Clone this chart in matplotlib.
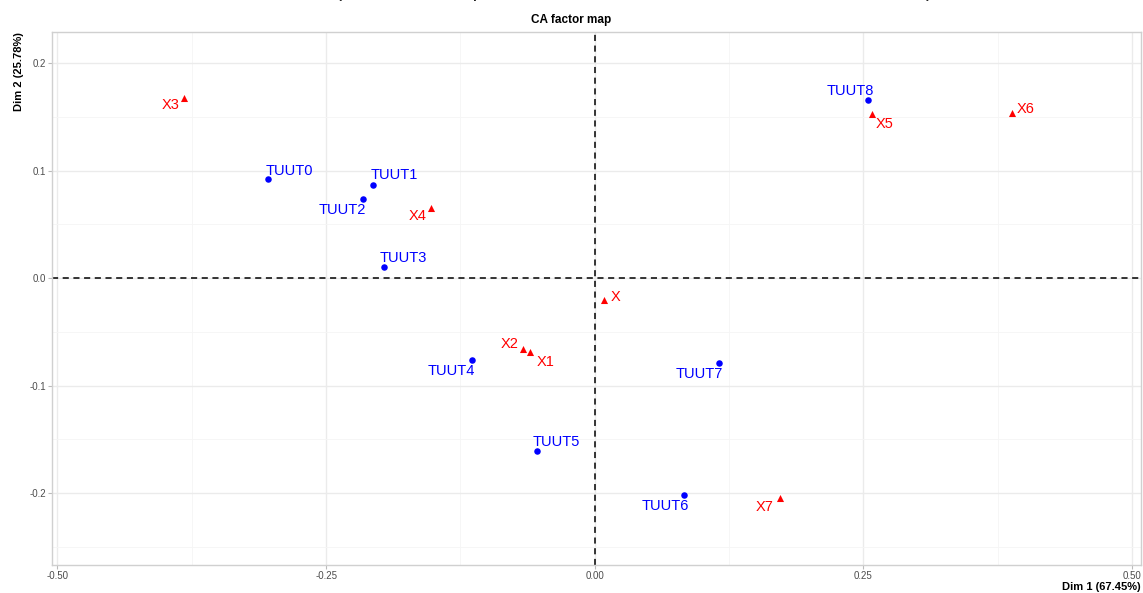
import matplotlib.pyplot as plt
from matplotlib.ticker import MultipleLocator

plt.rcParams['font.family'] = ['Liberation Sans', 'DejaVu Sans']

# rows (TUUTs) - blue points
row_names = ['TUUT0', 'TUUT1', 'TUUT2', 'TUUT3', 'TUUT4', 'TUUT5', 'TUUT6', 'TUUT7', 'TUUT8']
row_x = [-0.304, -0.206, -0.216, -0.196, -0.114, -0.054, 0.083, 0.116, 0.254]
row_y = [0.092, 0.087, 0.074, 0.010, -0.076, -0.161, -0.202, -0.079, 0.166]

# columns (factors) - red triangles
col_names = ['X3', 'X4', 'X', 'X2', 'X1', 'X5', 'X6', 'X7']
col_x = [-0.382, -0.152, 0.009, -0.067, -0.060, 0.258, 0.388, 0.172]
col_y = [0.168, 0.065, -0.020, -0.066, -0.069, 0.153, 0.154, -0.205]

# label offsets in pixels (repel-like placement)
row_off = [(21, 8), (21, 10), (-20, -11), (19, 9), (-21, -11), (20, 9), (-19, -11), (-20, -11), (-17, 9)]
col_off = [(-14, -7), (-14, -8), (11, 3), (-13, 5), (15, -10), (13, -10), (14, 4), (-15, -9)]

fig = plt.figure(figsize=(11.43, 5.93), dpi=100)
ax = fig.add_axes([0.0455, 0.047, 0.9525, 0.899])

ax.set_xlim(-0.505, 0.508)
ax.set_ylim(-0.267, 0.229)
ax.xaxis.set_major_locator(MultipleLocator(0.25))
ax.xaxis.set_minor_locator(MultipleLocator(0.125))
ax.yaxis.set_major_locator(MultipleLocator(0.1))
ax.yaxis.set_minor_locator(MultipleLocator(0.05))
ax.grid(which='major', color='#ebebeb', lw=1.0)
ax.grid(which='minor', color='#f5f5f5', lw=0.6)
ax.set_axisbelow(True)
for s in ax.spines.values():
    s.set_color('#d0d0d0')
    s.set_linewidth(1.0)
ax.tick_params(which='major', length=3, color='#bbbbbb', labelsize=7, labelcolor='#4d4d4d', pad=1.5)
ax.tick_params(which='minor', length=0)
ax.xaxis.set_major_formatter(plt.FuncFormatter(lambda v, p: f'{v:.2f}'))
ax.yaxis.set_major_formatter(plt.FuncFormatter(lambda v, p: f'{v:.1f}'))

ax.axhline(0, color='black', ls=(0, (4, 3)), lw=1.1)
ax.axvline(0, color='black', ls=(0, (4, 3)), lw=1.1)

ax.scatter(row_x, row_y, s=22, color='#0000ff', marker='o', zorder=3, linewidths=0)
ax.scatter(col_x, col_y, s=26, color='#ff0000', marker='^', zorder=3, linewidths=0)

for n, x, y, o in zip(row_names, row_x, row_y, row_off):
    ax.annotate(n, (x, y), xytext=o, textcoords='offset pixels', ha='center', va='center',
                color='#0000ff', fontsize=10.5)
for n, x, y, o in zip(col_names, col_x, col_y, col_off):
    ax.annotate(n, (x, y), xytext=o, textcoords='offset pixels', ha='center', va='center',
                color='#ff0000', fontsize=10.5)

fig.text(0.5, 0.966, 'CA factor map', ha='center', va='center', fontsize=8.5, fontweight='bold')
fig.text(0.998, 0.002, 'Dim 1 (67.45%)', ha='right', va='bottom', fontsize=8, fontweight='bold')
fig.text(0.012, 0.946, 'Dim 2 (25.78%)', ha='left', va='top', rotation=90, fontsize=8, fontweight='bold')

# cropped heading at the very top
fig.text(0.5, 1.015, 'Standard CA (the relationship between the TUUTs and the levels of a factor X)',
         ha='center', va='center', fontsize=15, color='#222222')

fig.savefig('out.png', dpi=100)
